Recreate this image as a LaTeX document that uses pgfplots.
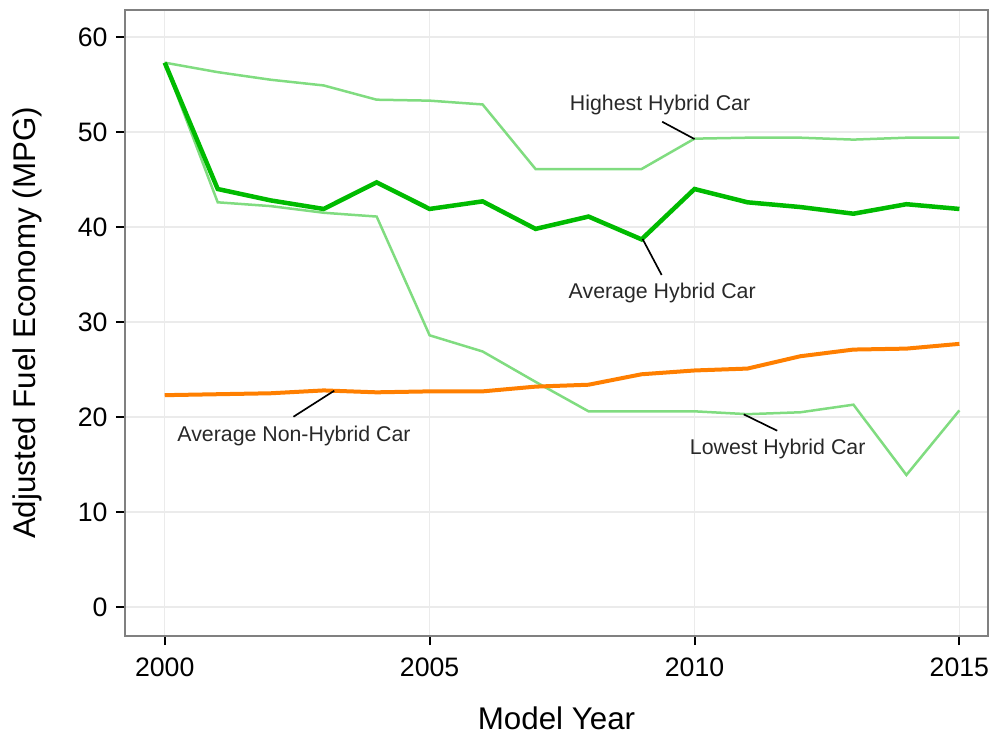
\documentclass[border=0pt]{standalone}
\usepackage{pgfplots}
\pgfplotsset{compat=1.18}
\usepackage{fontspec}
\setmainfont{Liberation Sans}

\definecolor{avghyb}{RGB}{0,187,0}
\definecolor{hilo}{RGB}{128,220,128}
\definecolor{nonhyb}{RGB}{255,127,0}
\definecolor{gridc}{RGB}{235,235,235}
\definecolor{annot}{RGB}{40,40,40}

\begin{document}
\begin{tikzpicture}
\useasboundingbox (-37.5pt,-29.7pt) rectangle (259.2pt,190.8pt);
\begin{axis}[
  at={(0pt,0pt)}, anchor=south west,
  scale only axis,
  width=258.9pt, height=187.8pt,
  xmin=1999.25, xmax=2015.54,
  ymin=-3.05, ymax=62.84,
  xtick={2000,2005,2010,2015},
  ytick={0,10,20,30,40,50,60},
  /pgf/number format/1000 sep={},
  /pgf/number format/assume math mode=true,
  tick label style={font=\fontsize{8}{9.6}\selectfont, black},
  tick align=outside,
  major tick length=2.7pt,
  every tick/.style={black, line width=0.6pt},
  xtick pos=bottom, ytick pos=left,
  axis line style={draw=black!50, line width=0.6pt},
  grid=major,
  major grid style={draw=gridc, line width=0.4pt},
  xlabel={Model Year},
  ylabel={Adjusted Fuel Economy (MPG)},
  label style={font=\fontsize{9.4}{11}\selectfont},
  xlabel style={at={(axis description cs:0.5,0)}, anchor=center, yshift=-24.6pt},
  ylabel style={at={(axis description cs:-0.1136,0.5)}, anchor=center, rotate=0},
  xticklabel style={yshift=-0.4pt},
  yticklabel style={xshift=1pt},
]
% highest hybrid
\addplot[hilo, line width=0.75pt] coordinates {
  (2000,57.3) (2001,56.3) (2002,55.5) (2003,54.9) (2004,53.4) (2005,53.3)
  (2006,52.9) (2007,46.1) (2008,46.1) (2009,46.1) (2010,49.3) (2011,49.4)
  (2012,49.4) (2013,49.2) (2014,49.4) (2015,49.4)
};
% lowest hybrid
\addplot[hilo, line width=0.75pt] coordinates {
  (2000,57.3) (2001,42.6) (2002,42.2) (2003,41.5) (2004,41.1) (2005,28.6)
  (2006,26.9) (2007,23.7) (2008,20.6) (2009,20.6) (2010,20.6) (2011,20.3)
  (2012,20.5) (2013,21.3) (2014,13.9) (2015,20.7)
};
% average non-hybrid
\addplot[nonhyb, line width=1.2pt] coordinates {
  (2000,22.3) (2001,22.4) (2002,22.5) (2003,22.8) (2004,22.6) (2005,22.7)
  (2006,22.7) (2007,23.2) (2008,23.4) (2009,24.5) (2010,24.9) (2011,25.1)
  (2012,26.4) (2013,27.1) (2014,27.2) (2015,27.7)
};
% average hybrid
\addplot[avghyb, line width=1.35pt] coordinates {
  (2000,57.3) (2001,44.0) (2002,42.8) (2003,41.9) (2004,44.7) (2005,41.9)
  (2006,42.7) (2007,39.8) (2008,41.1) (2009,38.7) (2010,44.0) (2011,42.6)
  (2012,42.1) (2013,41.4) (2014,42.4) (2015,41.9)
};
% annotations
\draw[black, line width=0.5pt] (axis cs:2009.39,51.08) -- (axis cs:2010,49.26);
\draw[black, line width=0.5pt] (axis cs:2009.02,38.74) -- (axis cs:2009.38,34.95);
\draw[black, line width=0.5pt] (axis cs:2002.43,20.03) -- (axis cs:2003.2,22.77);
\draw[black, line width=0.5pt] (axis cs:2010.93,20.28) -- (axis cs:2011.56,18.56);
\node[anchor=base, inner sep=0pt, text=annot, font=\fontsize{6.4}{7.7}\selectfont] at (axis cs:2009.35,52.24) {Highest Hybrid Car};
\node[anchor=base, inner sep=0pt, text=annot, font=\fontsize{6.4}{7.7}\selectfont] at (axis cs:2009.39,32.49) {Average Hybrid Car};
\node[anchor=base, inner sep=0pt, text=annot, font=\fontsize{6.4}{7.7}\selectfont] at (axis cs:2002.44,17.4) {Average Non-Hybrid Car};
\node[anchor=base, inner sep=0pt, text=annot, font=\fontsize{6.4}{7.7}\selectfont] at (axis cs:2011.57,16.07) {Lowest Hybrid Car};
\end{axis}
\end{tikzpicture}
\end{document}
